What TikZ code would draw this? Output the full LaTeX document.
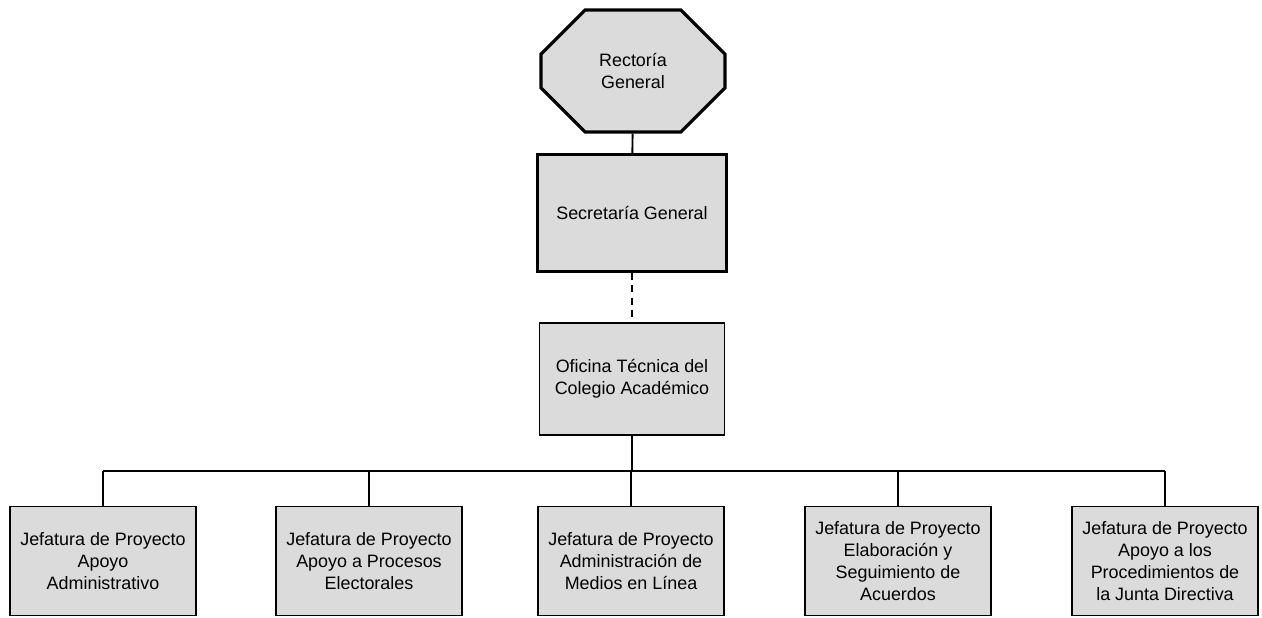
\documentclass[tikz,border=0pt]{standalone}
\usepackage{fontspec}
\setmainfont{Liberation Sans}
\usetikzlibrary{shapes.misc}

\tikzset{
  caja/.style={draw, line width=1.1pt, fill=gray!28, align=center,
    minimum width=3.72cm, inner sep=2pt, font=\fontsize{10.2}{12.5}\selectfont},
  cajagruesa/.style={caja, line width=1.8pt},
  octo/.style={cajagruesa, chamfered rectangle,
    chamfered rectangle xsep=0.64cm, chamfered rectangle ysep=0.46cm},
  jefatura/.style={caja, minimum height=2.18cm},
  linea/.style={line width=1.1pt}
}

\begin{document}
\begin{tikzpicture}[x=0.02cm, y=-0.02cm]
    % 1. MARC
    \useasboundingbox (0,0) rectangle (1262,618);

    % 2. NIVELLS SUPERIORS
    \node[octo, minimum width=3.68cm, minimum height=2.44cm] (rectoria) at (633,71) {Rectoría\\General};
    \node[cajagruesa, minimum width=3.78cm, minimum height=2.34cm] (secretaria) at (632,213) {Secretaría General};
    \node[caja, minimum width=3.7cm, minimum height=2.24cm] (oficina) at (632,379) {Oficina Técnica del\\Colegio Académico};

    \draw[linea] (rectoria) -- (secretaria);
    \draw[linea, dash pattern=on 4pt off 3pt] (secretaria) -- (oficina);

    % 3. JEFATURES
    \node[jefatura] (jefa) at (103,561) {Jefatura de Proyecto\\Apoyo\\Administrativo};
    \node[jefatura] (jefb) at (369,561) {Jefatura de Proyecto\\Apoyo a Procesos\\Electorales};
    \node[jefatura] (jefc) at (631,561) {Jefatura de Proyecto\\Administración de\\Medios en Línea};
    \node[jefatura] (jefd) at (898,561) {Jefatura de Proyecto\\Elaboración y\\Seguimiento de\\Acuerdos};
    \node[jefatura] (jefe) at (1165,561) {Jefatura de Proyecto\\Apoyo a los\\Procedimientos de\\la Junta Directiva};

    % 4. BARRA HORITZONTAL
    \coordinate (bus) at (632,471);
    \draw[linea] (oficina) -- (bus);
    \draw[linea] (jefa.north |- bus) -- (jefe.north |- bus);
    \foreach \j in {jefa, jefb, jefc, jefd, jefe} {
        \draw[linea] (\j.north) -- (\j.north |- bus);
    }

\end{tikzpicture}
\end{document}
